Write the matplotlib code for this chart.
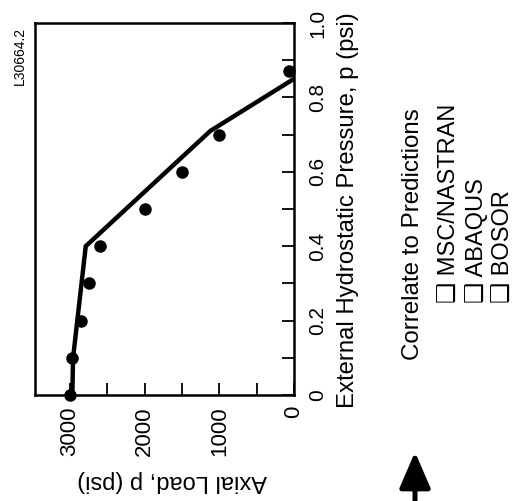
import matplotlib
matplotlib.use("Agg")
import matplotlib.pyplot as plt

# test points (axial load psi, pressure psi)
test_load = [3000, 2980, 2850, 2750, 2600, 2000, 1500, 1000, 70]
test_p = [0.0, 0.10, 0.20, 0.30, 0.40, 0.50, 0.60, 0.70, 0.87]

# prediction curve
pred_load = [2970, 2960, 2790, 1120, 0]
pred_p = [0.0, 0.10, 0.40, 0.71, 0.85]

load_ticks = [0, 500, 1000, 1500, 2000, 2500, 3000]
load_labels = ["0", "", "1000", "", "2000", "", "3000"]
p_ticks = [0, 0.1, 0.2, 0.3, 0.4, 0.5, 0.6, 0.7, 0.8, 0.9, 1.0]
p_labels = ["0", "", "0.2", "", "0.4", "", "0.6", "", "0.8", "", "1.0"]

legend_items = ["MSC/NASTRAN", "ABAQUS", "BOSOR"]

plt.rcParams["font.family"] = ["Liberation Sans", "DejaVu Sans"]

W, H = 514, 501
fig = plt.figure(figsize=(W / 100, H / 100), dpi=100)

def fx(px):
    return px / W

def fy(py):
    return 1 - py / H

ax = fig.add_axes([fx(35), fy(395), fx(294) - fx(35), fy(23) - fy(395)])
ax.plot(pred_load, pred_p, color="black", lw=3.2, solid_joinstyle="miter")
ax.plot(test_load, test_p, "o", color="black", ms=8, clip_on=False)

ax.set_xlim(3470, 0)
ax.set_ylim(0, 1.0)
ax.yaxis.tick_right()

ax.set_xticks(load_ticks)
ax.set_xticklabels(load_labels, rotation=90)
ax.set_yticks(p_ticks)
ax.set_yticklabels(p_labels, rotation=90, va="center")
ax.tick_params(axis="x", direction="in", length=9, width=1.3, labelsize=16, pad=8)
ax.tick_params(axis="y", direction="in", length=9, width=1.3, labelsize=15, pad=10)
for s in ax.spines.values():
    s.set_linewidth(1.8)

fig.text(fx(172), fy(481), "Axial Load, p (psi)", rotation=180,
         ha="center", va="center", fontsize=17)
fig.text(fx(348), fy(210), "External Hydrostatic Pressure, p (psi)", rotation=90,
         ha="center", va="center", fontsize=17.2)
fig.text(fx(20), fy(56), "L30664.2", rotation=90, ha="center", va="center", fontsize=10)

# legend text block (rotated)
fig.text(fx(413), fy(360), "Correlate to Predictions", rotation=90,
         rotation_mode="anchor", ha="left", va="center", fontsize=17.4)
for i, name in enumerate(legend_items):
    fig.text(fx(450 + 27 * i), fy(303), "\u2751 " + name, rotation=90,
             rotation_mode="anchor", ha="left", va="center", fontsize=17)

# arrow at bottom
ax.annotate("", xy=(415, H - 452), xytext=(415, -5), xycoords="figure pixels",
            textcoords="figure pixels",
            arrowprops=dict(arrowstyle="-|>,head_length=2.2,head_width=0.95",
                            mutation_scale=10, lw=3.6, color="black",
                            shrinkA=0, shrinkB=0))

fig.savefig("out.png", dpi=100)
